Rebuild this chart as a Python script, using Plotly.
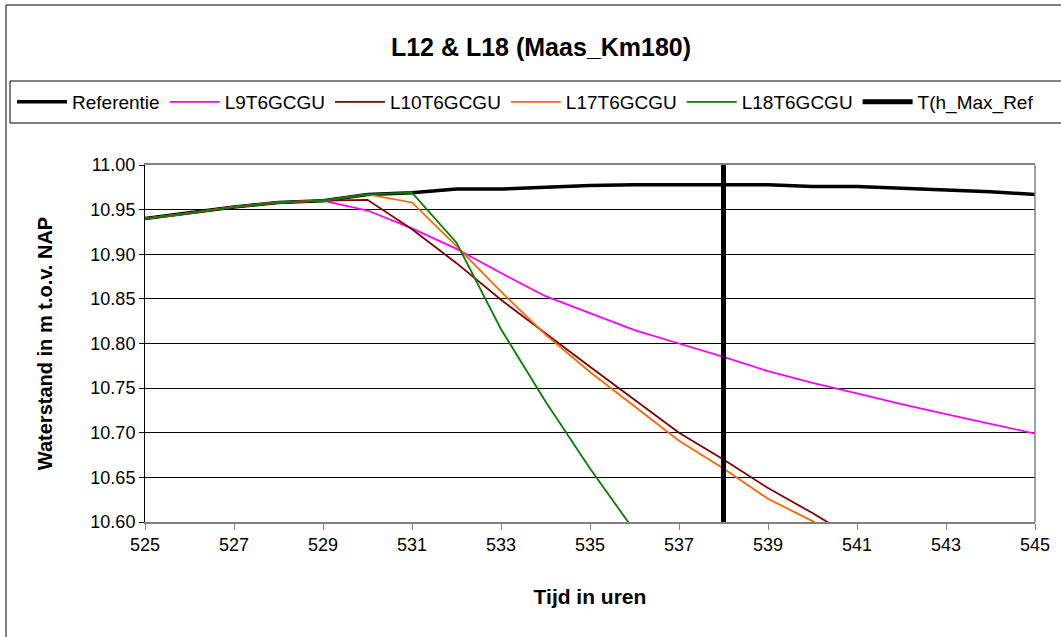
import plotly.graph_objects as go

hours = list(range(525, 546))

referentie = [10.940, 10.946, 10.953, 10.958, 10.960, 10.967, 10.969, 10.973, 10.973, 10.975,
              10.977, 10.978, 10.978, 10.978, 10.978, 10.976, 10.976, 10.974, 10.972, 10.970, 10.967]
l9 = [10.940, 10.946, 10.953, 10.958, 10.960, 10.949, 10.929, 10.906, 10.879, 10.853,
      10.834, 10.815, 10.800, 10.785, 10.769, 10.756, 10.744, 10.732, 10.721, 10.710, 10.699]
l10 = [10.940, 10.946, 10.953, 10.958, 10.960, 10.961, 10.928, 10.890, 10.849, 10.811,
       10.774, 10.737, 10.700, 10.670, 10.638, 10.610, 10.580, None, None, None, None]
l17 = [10.940, 10.946, 10.953, 10.958, 10.960, 10.967, 10.958, 10.909, 10.858, 10.810,
       10.768, 10.730, 10.691, 10.660, 10.626, 10.601, 10.570, None, None, None, None]
l18 = [10.940, 10.946, 10.953, 10.958, 10.960, 10.967, 10.969, 10.913, 10.816, 10.735,
       10.660, 10.590, None, None, None, None, None, None, None, None, None]
t_max_x = [538, 538]
t_max_y = [10.60, 11.00]

y_ticks = [10.60, 10.65, 10.70, 10.75, 10.80, 10.85, 10.90, 10.95, 11.00]
x_ticks = list(range(525, 546, 2))

FONT = "Liberation Sans, Arial, sans-serif"

fig = go.Figure()
fig.add_trace(go.Scatter(x=hours, y=referentie, name="Referentie", mode="lines",
                         line=dict(color="black", width=3.5)))
fig.add_trace(go.Scatter(x=hours, y=l9, name="L9T6GCGU", mode="lines",
                         line=dict(color="#FF00FF", width=1.8)))
fig.add_trace(go.Scatter(x=hours, y=l10, name="L10T6GCGU", mode="lines",
                         line=dict(color="#800000", width=1.8)))
fig.add_trace(go.Scatter(x=hours, y=l17, name="L17T6GCGU", mode="lines",
                         line=dict(color="#FF6600", width=1.8)))
fig.add_trace(go.Scatter(x=hours, y=l18, name="L18T6GCGU", mode="lines",
                         line=dict(color="#008000", width=1.8)))
fig.add_trace(go.Scatter(x=t_max_x, y=t_max_y, name="T(h_Max_Ref", mode="lines",
                         line=dict(color="black", width=5)))

L, R, T, B = 145, 26, 165, 115
W, H = 1061, 637
pw, ph = W - L - R, H - T - B

def px(x):
    return (x - L) / pw

def py(y):
    return (H - B - y) / ph

fig.update_layout(
    width=W, height=H,
    margin=dict(l=L, r=R, t=T, b=B, autoexpand=False),
    paper_bgcolor="white", plot_bgcolor="white",
    font=dict(family=FONT, size=17, color="black"),
    title=dict(text="<b>L12 & L18 (Maas_Km180)</b>", x=541 / W, xref="container", xanchor="center",
               y=1 - 47 / H, yref="container", yanchor="middle", font=dict(size=25)),
    showlegend=True,
    legend=dict(orientation="h", x=px(12), xanchor="left", y=py(102), yanchor="middle",
                bgcolor="rgba(0,0,0,0)", borderwidth=0, font=dict(size=19),
                itemwidth=50, tracegroupgap=0),
    xaxis=dict(range=[525, 545], tickvals=x_ticks, ticks="outside", ticklen=6,
               tickcolor="#808080", showline=True, linecolor="#808080", linewidth=1.5,
               mirror=True, showgrid=False, zeroline=False,
               tickfont=dict(size=18),
               title=dict(text="<b>Tijd in uren</b>", font=dict(size=21), standoff=35)),
    yaxis=dict(range=[10.60, 11.00], tickvals=y_ticks, tickformat=".2f", ticks="outside",
               ticklen=5, tickcolor="black", showline=True, linecolor="black", linewidth=1,
               showgrid=True, gridcolor="black", gridwidth=1, zeroline=False,
               tickfont=dict(size=18),
               title=dict(text="<b>Waterstand in m t.o.v. NAP</b>", font=dict(size=20), standoff=32)),
)

# right plot-area border (gray)
fig.add_shape(type="line", xref="paper", yref="paper", x0=1, x1=1, y0=0, y1=1,
              line=dict(color="#808080", width=1.5))
# legend box
fig.add_shape(type="rect", xref="paper", yref="paper", x0=px(10), x1=px(1075),
              y0=py(123), y1=py(81), line=dict(color="black", width=1), layer="below")
# outer chart border
fig.add_shape(type="rect", xref="paper", yref="paper", x0=px(6), x1=px(1075),
              y0=py(650), y1=py(5), line=dict(color="black", width=1), layer="below")

fig.write_html("out.html")
